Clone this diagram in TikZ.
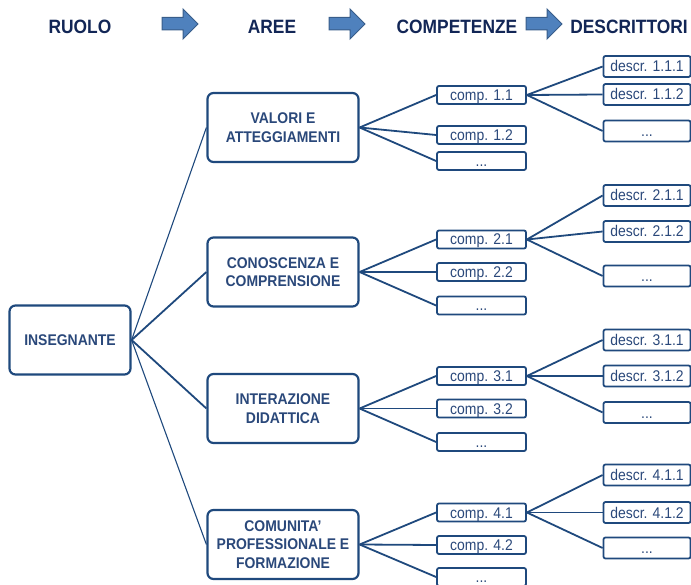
\documentclass[tikz,border=0pt]{standalone}
\usepackage{fontspec}
\setmainfont[FakeStretch=0.9]{Liberation Sans}
\usetikzlibrary{positioning}

\definecolor{hdrblue}{RGB}{18,38,86}
\definecolor{boxblue}{RGB}{31,73,125}
\definecolor{txtblue}{RGB}{42,72,122}
\definecolor{arrfill}{RGB}{79,129,189}
\definecolor{arrdraw}{RGB}{56,93,138}

\begin{document}
\begin{tikzpicture}[x=1pt,y=-1pt,
    header/.style = {
      text = hdrblue,
      font = \bfseries\fontsize{19.3}{22}\selectfont
    },
    blockarrow/.style = {
      fill = arrfill,
      draw = arrdraw,
      line width = 1pt
    },
    role/.style = {
      draw = boxblue,
      line width = 2.2pt,
      rounded corners = 6pt,
      text = txtblue,
      font = \bfseries\fontsize{15.5}{18.5}\selectfont,
      minimum width = 121pt,
      minimum height = 69pt,
      align = center
    },
    area/.style = {
      role,
      minimum width = 151pt
    },
    comp/.style = {
      draw = boxblue,
      line width = 1.8pt,
      rounded corners = 2pt,
      text = txtblue,
      font = \fontsize{15.5}{17}\selectfont,
      inner sep = 0pt,
      text height = 12pt,
      text depth = 1pt,
      minimum width = 89pt,
      minimum height = 18pt
    },
    descr/.style = {
      comp,
      minimum width = 87pt,
      minimum height = 21pt
    },
    link/.style = {
      draw = boxblue,
      line width = 1.8pt
    },
    thinlink/.style = {
      draw = boxblue,
      line width = 1.1pt
    }
  ]
  \useasboundingbox (0,0) rectangle (691,585);

  % intestazioni
  \node[header] (hruolo) at (80,27) {RUOLO};
  \node[header] (haree) at (272,27) {AREE};
  \node[header] (hcomp) at (457,27) {COMPETENZE};
  \node[header] (hdescr) at (629,27) {DESCRITTORI};

  \draw[blockarrow] (162,17.5) -- ++(21,0) -- ++(0,-8.5) -- ++(15,15)
    -- ++(-15,15) -- ++(0,-9) -- ++(-21,0) -- cycle;
  \draw[blockarrow] (329,17.5) -- ++(21,0) -- ++(0,-8.5) -- ++(15,15)
    -- ++(-15,15) -- ++(0,-9) -- ++(-21,0) -- cycle;
  \draw[blockarrow] (526,17.5) -- ++(21,0) -- ++(0,-8.5) -- ++(15,15)
    -- ++(-15,15) -- ++(0,-9) -- ++(-21,0) -- cycle;

  % ruolo e aree
  \node[role] (ins) at (70,340) {INSEGNANTE};

  \node[area] (a1) at (283,127.5) {VALORI E\\ATTEGGIAMENTI};
  \node[area] (a2) at (283,272) {CONOSCENZA E\\COMPRENSIONE};
  \node[area] (a3) at (283,408.5) {INTERAZIONE\\DIDATTICA};
  \node[area] (a4) at (283,544.5) {COMUNITA'\\PROFESSIONALE E\\FORMAZIONE};

  \draw[thinlink] (ins.east) -- (a1.west);
  \draw[link] (ins.east) -- (a2.west);
  \draw[link] (ins.east) -- (a3.west);
  \draw[thinlink] (ins.east) -- (a4.west);

  % competenze
  \node[comp] (c11) at (481.5,95) {comp. 1.1};
  \node[comp] (c12) at (481.5,135) {comp. 1.2};
  \node[comp] (c13) at (481.5,161) {...};
  \node[comp] (c21) at (481.5,239.5) {comp. 2.1};
  \node[comp] (c22) at (481.5,272) {comp. 2.2};
  \node[comp] (c23) at (481.5,305.5) {...};
  \node[comp] (c31) at (481.5,376) {comp. 3.1};
  \node[comp] (c32) at (481.5,408.5) {comp. 3.2};
  \node[comp] (c33) at (481.5,442) {...};
  \node[comp] (c41) at (481.5,512.5) {comp. 4.1};
  \node[comp] (c42) at (481.5,545) {comp. 4.2};
  \node[comp] (c43) at (481.5,577) {...};

  \draw[link] (a1.east) -- (c11.west);
  \draw[link] (a1.east) -- (c12.west);
  \draw[link] (a1.east) -- (c13.west);
  \draw[link] (a2.east) -- (c21.west);
  \draw[link] (a2.east) -- (c22.west);
  \draw[link] (a2.east) -- (c23.west);
  \draw[link] (a3.east) -- (c31.west);
  \draw[link] (a3.east) -- (c32.west);
  \draw[link] (a3.east) -- (c33.west);
  \draw[link] (a4.east) -- (c41.west);
  \draw[link] (a4.east) -- (c42.west);
  \draw[link] (a4.east) -- (c43.west);

  % descrittori
  \node[descr] (d111) at (647,66.5) {descr. 1.1.1};
  \node[descr] (d112) at (647,94.5) {descr. 1.1.2};
  \node[descr] (d113) at (647,131) {...};
  \node[descr] (d211) at (647,195.5) {descr. 2.1.1};
  \node[descr] (d212) at (647,231.5) {descr. 2.1.2};
  \node[descr] (d213) at (647,276) {...};
  \node[descr] (d311) at (647,340) {descr. 3.1.1};
  \node[descr] (d312) at (647,376) {descr. 3.1.2};
  \node[descr] (d313) at (647,412.5) {...};
  \node[descr] (d411) at (647,475) {descr. 4.1.1};
  \node[descr] (d412) at (647,512.5) {descr. 4.1.2};
  \node[descr] (d413) at (647,548) {...};

  \draw[link] (c11.east) -- (d111.west);
  \draw[link] (c11.east) -- (d112.west);
  \draw[link] (c11.east) -- (d113.west);
  \draw[link] (c21.east) -- (d211.west);
  \draw[link] (c21.east) -- (d212.west);
  \draw[link] (c21.east) -- (d213.west);
  \draw[link] (c31.east) -- (d311.west);
  \draw[link] (c31.east) -- (d312.west);
  \draw[link] (c31.east) -- (d313.west);
  \draw[link] (c41.east) -- (d411.west);
  \draw[link] (c41.east) -- (d412.west);
  \draw[link] (c41.east) -- (d413.west);
\end{tikzpicture}
\end{document}
